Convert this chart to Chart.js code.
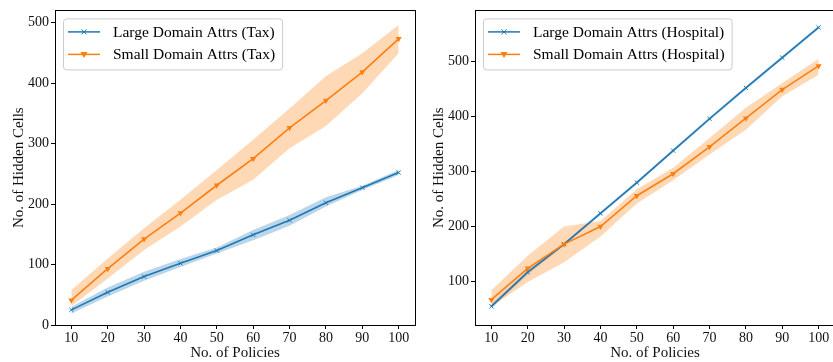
<!DOCTYPE html>
<html>
<head>
<meta charset="utf-8">
<script src="https://cdn.jsdelivr.net/npm/chart.js@4.4.1/dist/chart.umd.min.js"></script>
<style>
  html, body { margin: 0; padding: 0; background: #fff; overflow: hidden; }
  #wrap { position: relative; width: 833px; height: 362px; overflow: hidden; }
  .panel { position: absolute; top: 0; width: 420px; height: 362px; }
</style>
</head>
<body>
<div id="wrap">
  <div class="panel" style="left:0"><canvas id="tax-chart"></canvas></div>
  <div class="panel" style="left:420px"><canvas id="hosp-chart"></canvas></div>
</div>
<script>
// x values shared by both panels
const policies = [10, 20, 30, 40, 50, 60, 70, 80, 90, 100];

// Tax dataset
const taxLarge     = [25, 54, 80, 102, 123, 149, 173, 202, 227, 252];
const taxLargeLow  = [19, 47, 73, 96, 118, 140, 164, 196, 223, 248];
const taxLargeHigh = [30, 62, 88, 109, 128, 157, 182, 211, 230, 256];
const taxSmall     = [41, 93, 142, 185, 231, 275, 326, 371, 418, 473];
const taxSmallLow  = [31, 77, 124, 163, 207, 240, 292, 329, 383, 449];
const taxSmallHigh = [58, 110, 160, 207, 256, 306, 358, 411, 449, 496];

// Hospital dataset
const hospLarge     = [55, 117, 168, 224, 280, 338, 396, 452, 507, 562];
const hospLargeLow  = [51, 113, 165, 221, 277, 335, 393, 449, 504, 559];
const hospLargeHigh = [59, 121, 171, 227, 283, 341, 399, 455, 510, 565];
const hospSmall     = [67, 124, 168, 200, 256, 296, 345, 397, 449, 492];
const hospSmallLow  = [54, 99, 135, 182, 242, 284, 331, 376, 437, 476];
const hospSmallHigh = [84, 147, 200, 210, 268, 307, 361, 416, 461, 505];

// tick labels
const xTicks = [10, 20, 30, 40, 50, 60, 70, 80, 90, 100];
const taxYTicks = [0, 100, 200, 300, 400, 500];
const hospYTicks = [100, 200, 300, 400, 500];

const BLUE = '#1f77b4';
const ORANGE = '#ff7f0e';
const FONT = "'Liberation Serif', 'DejaVu Serif', serif";

function pts(ys) {
  return policies.map((x, i) => ({ x: x, y: ys[i] }));
}

// frame + matplotlib style legend drawn on the canvas
const framePlugin = {
  id: 'frame',
  afterDatasetsDraw(chart) {
    const a = chart.chartArea;
    const ctx = chart.ctx;
    ctx.save();
    ctx.strokeStyle = '#000';
    ctx.lineWidth = 1;
    ctx.strokeRect(Math.round(a.left) + 0.5, Math.round(a.top) + 0.5,
      Math.round(a.right - a.left), Math.round(a.bottom - a.top));
    ctx.restore();
  },
  afterDraw(chart, args, opts) {
    const a = chart.chartArea;
    const ctx = chart.ctx;
    const x0 = a.left + 8, y0 = a.top + 8;
    ctx.save();
    ctx.font = '15.5px ' + FONT;
    let tw = 0;
    opts.labels.forEach(l => { tw = Math.max(tw, ctx.measureText(l).width); });
    const w = 50 + tw + 7, h = 51;
    ctx.fillStyle = 'rgba(255,255,255,0.8)';
    ctx.strokeStyle = '#cccccc';
    ctx.lineWidth = 1;
    ctx.beginPath();
    ctx.roundRect(x0 + 0.5, y0 + 0.5, w, h, 3);
    ctx.fill();
    ctx.stroke();
    const colors = [BLUE, ORANGE];
    opts.labels.forEach((l, i) => {
      const cy = y0 + 13.5 + i * 22.5;
      ctx.strokeStyle = colors[i];
      ctx.lineWidth = 1.5;
      ctx.beginPath();
      ctx.moveTo(x0 + 5, cy);
      ctx.lineTo(x0 + 37, cy);
      ctx.stroke();
      const mx = x0 + 21;
      if (i === 0) {
        ctx.lineWidth = 1;
        ctx.beginPath();
        ctx.moveTo(mx - 2.5, cy - 2.5); ctx.lineTo(mx + 2.5, cy + 2.5);
        ctx.moveTo(mx - 2.5, cy + 2.5); ctx.lineTo(mx + 2.5, cy - 2.5);
        ctx.stroke();
      } else {
        ctx.fillStyle = colors[i];
        ctx.beginPath();
        ctx.moveTo(mx - 3.5, cy - 2.5); ctx.lineTo(mx + 3.5, cy - 2.5); ctx.lineTo(mx, cy + 3.5);
        ctx.closePath();
        ctx.fill();
      }
      ctx.fillStyle = '#000';
      ctx.textBaseline = 'middle';
      ctx.fillText(l, x0 + 50, cy + 1);
    });
    ctx.restore();
  }
};

function makeChart(canvasId, d, yMin, yMax, yTicks, labels, rightPad) {
  const ctx = document.getElementById(canvasId).getContext('2d');
  return new Chart(ctx, {
    type: 'line',
    data: {
      datasets: [
        { data: pts(d.smallLow), borderWidth: 0, pointRadius: 0, fill: false, order: 4 },
        { data: pts(d.smallHigh), borderWidth: 0, pointRadius: 0, fill: '-1',
          backgroundColor: 'rgba(255,127,14,0.3)', order: 4 },
        { data: pts(d.largeLow), borderWidth: 0, pointRadius: 0, fill: false, order: 5 },
        { data: pts(d.largeHigh), borderWidth: 0, pointRadius: 0, fill: '-1',
          backgroundColor: 'rgba(31,119,180,0.3)', order: 5 },
        { label: labels[0], data: pts(d.large), borderColor: BLUE, backgroundColor: BLUE,
          borderWidth: 1.6, pointStyle: 'crossRot', pointRadius: 3, pointBorderWidth: 1,
          fill: false, order: 2 },
        { label: labels[1], data: pts(d.small), borderColor: ORANGE, backgroundColor: ORANGE,
          borderWidth: 1.6, pointStyle: 'triangle', pointRotation: 180, pointRadius: 3.5,
          pointBorderWidth: 0, fill: false, order: 1 }
      ]
    },
    options: {
      responsive: false,
      animation: false,
      layout: { padding: { top: 10, right: rightPad, left: 0, bottom: 0 } },
      plugins: {
        legend: { display: false },
        tooltip: { enabled: false },
        frame: { labels: labels }
      },
      scales: {
        x: {
          type: 'linear', min: 5.5, max: 104.5,
          afterBuildTicks: s => { s.ticks = xTicks.map(v => ({ value: v })); },
          afterFit: s => { s.height = 37; },
          grid: { drawOnChartArea: false, drawTicks: true, tickLength: 4, color: '#000' },
          border: { display: false },
          ticks: { color: '#111', padding: 1, maxRotation: 0, font: { family: FONT, size: 14 } },
          title: { display: true, text: 'No. of Policies', color: '#111', padding: 0,
            font: { family: FONT, size: 15 } }
        },
        y: {
          min: yMin, max: yMax,
          afterBuildTicks: s => { s.ticks = yTicks.map(v => ({ value: v })); },
          afterFit: s => { s.width = 55; },
          grid: { drawOnChartArea: false, drawTicks: true, tickLength: 4, color: '#000' },
          border: { display: false },
          ticks: { color: '#111', padding: 2, font: { family: FONT, size: 14 } },
          title: { display: true, text: 'No. of Hidden Cells', color: '#111',
            padding: { top: 10, bottom: 0 }, font: { family: FONT, size: 15 } }
        }
      }
    },
    plugins: [framePlugin]
  });
}

function sizeCanvas(id) {
  const c = document.getElementById(id);
  c.width = 420; c.height = 362;
  c.style.width = '420px'; c.style.height = '362px';
}
sizeCanvas('tax-chart');
sizeCanvas('hosp-chart');

makeChart('tax-chart', {
  large: taxLarge, largeLow: taxLargeLow, largeHigh: taxLargeHigh,
  small: taxSmall, smallLow: taxSmallLow, smallHigh: taxSmallHigh
}, 0, 520, taxYTicks, ['Large Domain Attrs (Tax)', 'Small Domain Attrs (Tax)'], 5);

makeChart('hosp-chart', {
  large: hospLarge, largeLow: hospLargeLow, largeHigh: hospLargeHigh,
  small: hospSmall, smallLow: hospSmallLow, smallHigh: hospSmallHigh
}, 21, 593, hospYTicks, ['Large Domain Attrs (Hospital)', 'Small Domain Attrs (Hospital)'], 4);
</script>
</body>
</html>
